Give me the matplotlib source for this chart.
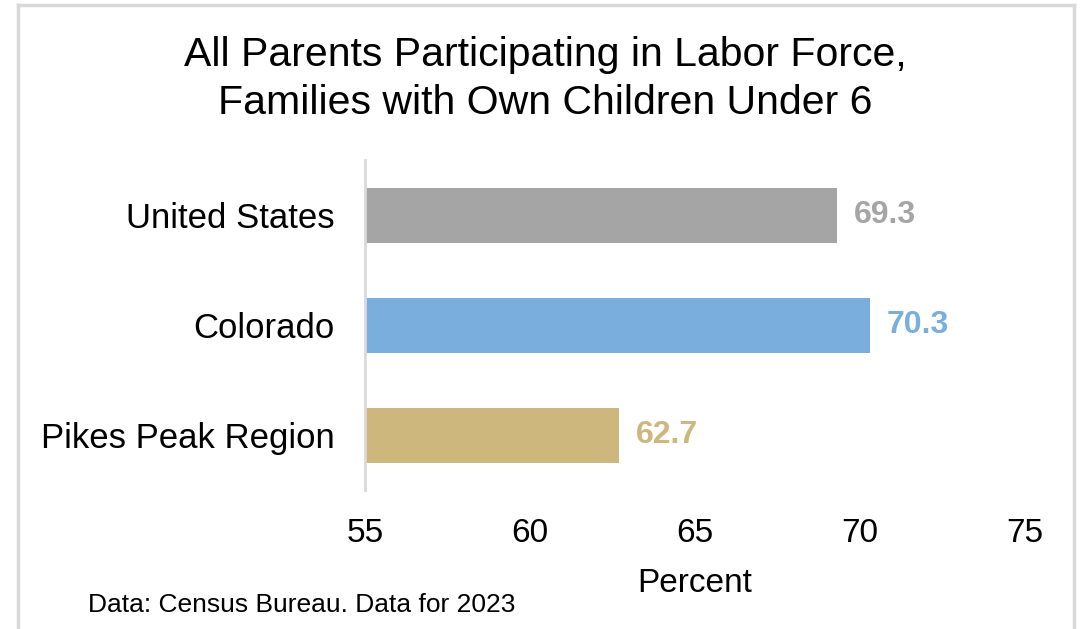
import matplotlib.pyplot as plt
from matplotlib.lines import Line2D

regions = ['United States', 'Colorado', 'Pikes Peak Region']
values = [69.3, 70.3, 62.7]
colors = ['#A5A5A5', '#7AAEDC', '#CDB77C']
xticks = [55, 60, 65, 70, 75]

plt.rcParams['font.family'] = ['Liberation Sans', 'DejaVu Sans']

W, H = 1081, 629
fig = plt.figure(figsize=(W / 100, H / 100), dpi=100)
ax = fig.add_axes([365 / W, 1 - 490 / H, 660 / W, 330 / H])

y = list(range(len(regions)))
ax.barh(y, [v - 55 for v in values], left=55, height=0.5, color=colors)
for yi, v, c in zip(y, values, colors):
    ax.text(v + 0.5, yi, f'{v:.1f}', color=c, fontsize=23, fontweight='bold',
            va='center', ha='left')

ax.set_xlim(55, 75)
ax.set_ylim(2.5, -0.5)
ax.set_yticks(y)
ax.set_yticklabels(regions, fontsize=25)
ax.set_xticks(xticks)
ax.set_xticklabels([str(t) for t in xticks], fontsize=24)
ax.tick_params(length=0)
ax.tick_params(axis='x', pad=20)
ax.tick_params(axis='y', pad=22)
for s in ['top', 'right', 'bottom']:
    ax.spines[s].set_visible(False)
ax.spines['left'].set_color('#D9D9D9')
ax.spines['left'].set_linewidth(2)
ax.set_xlabel('Percent', fontsize=24, labelpad=14)

fig.text(545 / W, 1 - 79 / H,
         'All Parents Participating in Labor Force,\nFamilies with Own Children Under 6',
         ha='center', va='center', fontsize=29.5, linespacing=1.3)
fig.text(88 / W, 1 - 605 / H, 'Data: Census Bureau. Data for 2023',
         fontsize=19, va='center', ha='left')

# light frame around the panel (open at the bottom)
frame = dict(color='#D9D9D9', linewidth=2.5, transform=fig.transFigure)
fig.add_artist(Line2D([18 / W, 18 / W], [0, 1 - 5 / H], **frame))
fig.add_artist(Line2D([18 / W, 1074 / W], [1 - 5 / H, 1 - 5 / H], **frame))
fig.add_artist(Line2D([1074 / W, 1074 / W], [0, 1 - 5 / H], **frame))

fig.savefig('out.png', dpi=100)
